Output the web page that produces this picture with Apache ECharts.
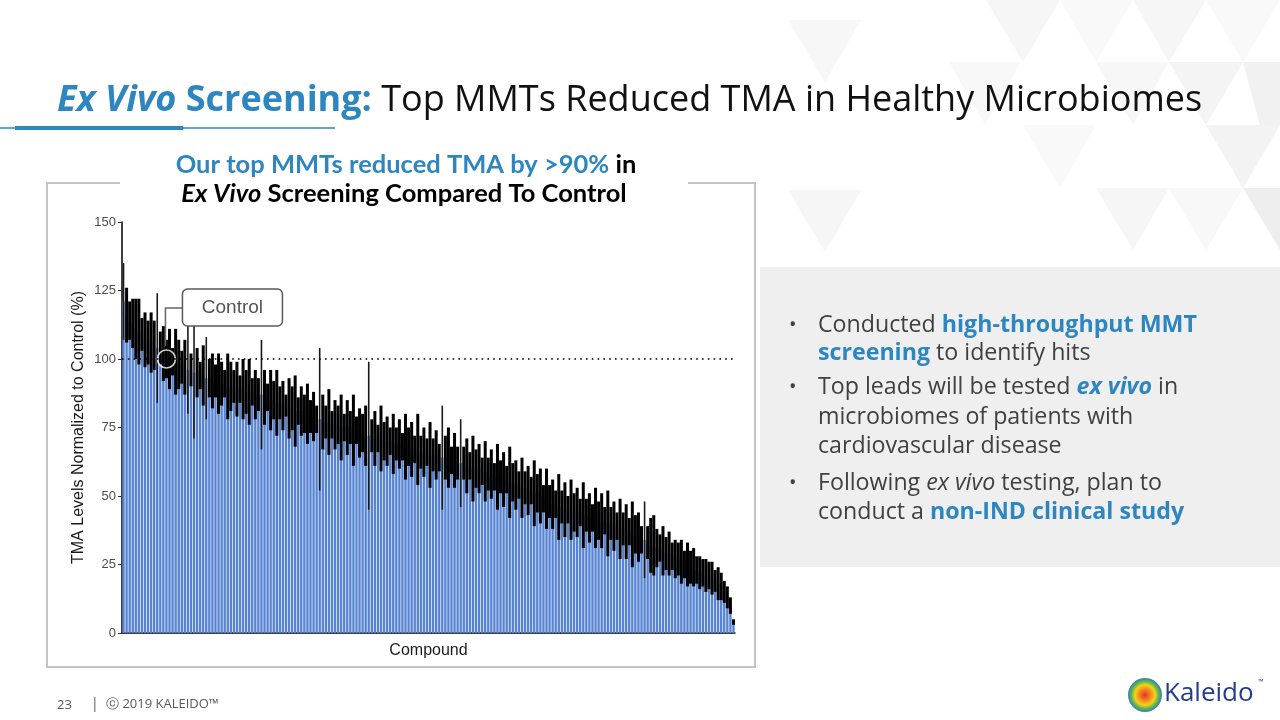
<!DOCTYPE html>
<html>
<head>
<meta charset="utf-8">
<script src="https://cdn.jsdelivr.net/npm/echarts@6/dist/echarts.min.js"></script>
<style>
html,body{margin:0;padding:0;background:#fff;}
#c{width:1280px;height:720px;}
</style>
</head>
<body>
<div id="c"></div>
<script>
// ---- Data ----
const yTicks = [0, 25, 50, 75, 100, 125, 150];
const controlIndex = 14;
const controlValue = 100;
const means = [
121,116,114,113,111,110,109,107,106,106,
105,104,104,102,100,100,99,99,98,97,
97,96,96,95,95,94,94,93,93,92,
92,91,91,91,90,90,90,89,89,89,
88,88,88,87,87,87,86,86,85,85,
84,84,83,83,82,82,81,81,81,80,
80,79,79,78,78,77,77,77,76,76,
76,75,75,75,75,74,74,73,73,72,
72,72,71,71,71,70,70,70,69,69,
69,68,68,68,67,67,67,66,66,66,
65,65,65,64,64,64,64,63,63,62,
62,62,61,61,60,60,60,59,59,58,
58,57,57,57,56,56,55,55,54,54,
53,53,52,52,51,51,50,49,49,48,
47,47,46,46,45,45,45,44,44,44,
43,43,42,42,42,41,41,41,40,40,
39,39,38,38,37,37,36,36,35,34,
34,33,32,32,31,31,30,29,29,28,
27,27,26,25,25,24,24,23,22,22,
21,21,20,19,18,17,15,13,10,4
];
const errs = [
14,10,7,9,11,12,6,10,8,11,
9,20,6,10,7,11,5,12,9,6,
10,16,6,24,9,5,11,15,7,10,
6,11,8,5,12,9,6,10,5,11,
8,12,5,9,6,20,10,5,11,7,
12,6,9,4,11,8,13,5,9,7,
11,6,9,5,26,10,6,12,5,9,
7,12,5,10,6,13,5,9,7,11,
27,6,10,5,12,7,9,5,11,6,
9,5,12,7,10,5,13,6,9,5,
12,6,9,5,19,8,11,5,10,6,
16,6,10,5,12,7,9,5,11,6,
9,5,12,6,10,5,13,7,9,5,
11,6,9,5,12,7,10,5,11,6,
9,5,12,6,10,5,11,7,9,5,
12,6,9,5,11,7,10,5,12,6,
9,5,11,6,10,5,12,7,9,5,
14,6,10,11,7,5,9,6,8,5,
7,6,8,5,8,6,7,5,6,5,
6,5,6,4,6,5,4,4,3,1
];
const categories = means.map((_, i) => 'C' + (i + 1));

const BLUE = '#2e86c1';
const TXT = '#404040';

const chart = echarts.init(document.getElementById('c'), null, {renderer: 'canvas'});

function tri(pts, fill) {
  return {type: 'polygon', silent: true, z: -10, shape: {points: pts}, style: {fill: fill}};
}

const bgShapes = [
  tri([[788,20],[861,20],[825,82]], '#f7f7f7'),
  tri([[949,62],[1021,62],[985,125]], '#f8f8f8'),
  tri([[788,190],[861,190],[825,252]], '#f6f6f6'),
  tri([[986,0],[1060,0],[1023,62]], '#f6f6f6'),
  tri([[1060,0],[1133,0],[1096,62]], '#f9f9f9'),
  tri([[1133,0],[1206,0],[1169,62]], '#f6f6f6'),
  tri([[1206,0],[1280,0],[1243,62]], '#f9f9f9'),
  tri([[1096,62],[1169,62],[1133,125]], '#f7f7f7'),
  tri([[1169,62],[1243,62],[1206,125]], '#f4f4f4'),
  tri([[1243,62],[1280,62],[1280,125],[1260,125]], '#f1f1f1'),
  tri([[1206,125],[1280,125],[1243,188]], '#f3f3f3'),
  tri([[1096,188],[1169,188],[1133,250]], '#f6f6f6'),
  tri([[1169,188],[1243,188],[1206,250]], '#f8f8f8'),
  tri([[1023,125],[1096,125],[1060,188]], '#f9f9f9'),
  tri([[1243,188],[1280,188],[1280,250]], '#eeeeee')
];

function buildGraphics(p) {
  const g = bgShapes.slice();
  // right grey panel
  g.push({type: 'rect', silent: true, z: -5, shape: {x: 760, y: 267, width: 520, height: 300}, style: {fill: '#f0eff0'}});
  // title
  g.push({
    type: 'text', left: 57, top: 83, z: 10,
    style: {
      text: '{a|Ex Vivo }{b|Screening:}{c| Top MMTs Reduced TMA in Healthy Microbiomes}',
      rich: {
        a: {fontFamily: 'Open Sans', fontSize: 36, fontWeight: 'bold', fontStyle: 'italic', fill: BLUE},
        b: {fontFamily: 'Open Sans', fontSize: 36, fontWeight: 'bold', fill: BLUE},
        c: {fontFamily: 'Open Sans', fontSize: 36, fill: '#111111'}
      }
    }
  });
  // title underline
  g.push({type: 'line', silent: true, shape: {x1: 0, y1: 128, x2: 335, y2: 128}, style: {stroke: BLUE, lineWidth: 1.5}});
  g.push({type: 'rect', silent: true, shape: {x: 15, y: 126, width: 168, height: 4}, style: {fill: BLUE}});
  // chart frame
  const fr = {stroke: '#c4c4c4', lineWidth: 2};
  g.push({type: 'polyline', silent: true, shape: {points: [[120,183],[47,183],[47,667],[755,667],[755,183],[688,183]]}, style: Object.assign({fill: null}, fr)});
  // chart subtitle
  g.push({
    type: 'text', x: 406, y: 165, z: 10,
    style: {
      text: '{a|Our top MMTs reduced TMA by >90%}{b| in}',
      align: 'center', verticalAlign: 'middle',
      rich: {
        a: {fontFamily: 'Lato', fontSize: 25.5, fontWeight: 'bold', fill: BLUE},
        b: {fontFamily: 'Lato', fontSize: 25.5, fontWeight: 'bold', fill: '#000'}
      }
    }
  });
  g.push({
    type: 'text', x: 404, y: 194, z: 10,
    style: {
      text: '{a|Ex Vivo}{b| Screening Compared To Control}',
      align: 'center', verticalAlign: 'middle',
      rich: {
        a: {fontFamily: 'Lato', fontSize: 25.5, fontWeight: 'bold', fontStyle: 'italic', fill: '#000'},
        b: {fontFamily: 'Lato', fontSize: 25.5, fontWeight: 'bold', fill: '#000'}
      }
    }
  });
  // bullets
  const FS = 23.2;
  const rich = {
    n: {fontFamily: 'Open Sans', fontSize: FS, fill: TXT},
    b: {fontFamily: 'Open Sans', fontSize: FS, fontWeight: 'bold', fill: BLUE},
    bi: {fontFamily: 'Open Sans', fontSize: FS, fontWeight: 'bold', fontStyle: 'italic', fill: BLUE},
    i: {fontFamily: 'Open Sans', fontSize: FS, fontStyle: 'italic', fill: TXT}
  };
  const lines = [
    [325, '{n|Conducted }{b|high-throughput MMT}', true],
    [353, '{b|screening}{n| to identify hits}', false],
    [387, '{n|Top leads will be tested }{bi|ex vivo}{n| in}', true],
    [417, '{n|microbiomes of patients with}', false],
    [446, '{n|cardiovascular disease}', false],
    [483, '{n|Following }{i|ex vivo}{n| testing, plan to}', true],
    [512, '{n|conduct a }{b|non-IND clinical study}', false]
  ];
  lines.forEach(l => {
    g.push({type: 'text', x: 818, y: l[0], z: 10, style: {text: l[1], rich: rich, verticalAlign: 'middle', align: 'left'}});
    if (l[2]) g.push({type: 'text', x: 789, y: l[0], z: 10, style: {text: '•', fontFamily: 'Open Sans', fontSize: 20, fill: TXT, verticalAlign: 'middle', align: 'left'}});
  });
  // footer
  g.push({type: 'text', x: 57, y: 705, style: {text: '23', fontFamily: 'Open Sans', fontSize: 13, fill: '#595959', verticalAlign: 'middle'}});
  g.push({type: 'text', x: 91, y: 704, style: {text: '|', fontFamily: 'Open Sans', fontSize: 14, fill: '#595959', verticalAlign: 'middle'}});
  g.push({type: 'text', x: 106, y: 704, style: {text: 'ⓒ 2019 KALEIDO™', fontFamily: 'Open Sans', fontSize: 13, fill: '#595959', verticalAlign: 'middle'}});
  // logo
  g.push({type: 'circle', silent: true, shape: {cx: 1145, cy: 695, r: 17},
    style: {fill: new echarts.graphic.RadialGradient(0.5, 0.5, 0.5, [
      {offset: 0, color: '#e8312a'}, {offset: 0.35, color: '#f28c1c'}, {offset: 0.6, color: '#f3d21a'},
      {offset: 0.8, color: '#63b649'}, {offset: 1, color: '#2f7fc1'}])}});
  g.push({type: 'text', x: 1164, y: 694, style: {text: 'Kaleido', fontFamily: 'Open Sans', fontSize: 26, fill: '#233c8c', verticalAlign: 'middle'}});
  g.push({type: 'text', x: 1258, y: 682, style: {text: '™', fontFamily: 'Open Sans', fontSize: 7, fill: '#233c8c', verticalAlign: 'middle'}});

  // Control annotation
  if (p) {
    const px = p[0], py = p[1];
    g.push({type: 'polyline', silent: true, z: 20, shape: {points: [[px + 16, py - 51], [px - 1, py - 51], [px - 1, py - 13]]}, style: {stroke: '#666', lineWidth: 1.5, fill: null}});
    g.push({type: 'rect', silent: true, z: 20, shape: {x: px + 16, y: py - 70, width: 100, height: 37, r: 5}, style: {fill: '#fff', stroke: '#595959', lineWidth: 1.5}});
    g.push({type: 'text', silent: true, z: 21, x: px + 66, y: py - 51, style: {text: 'Control', fontFamily: 'Liberation Sans', fontSize: 19, fill: '#555', align: 'center', verticalAlign: 'middle'}});
  }
  return g;
}

const option = {
  animation: false,
  backgroundColor: '#ffffff',
  grid: {left: 122, top: 222, width: 613, height: 411, containLabel: false},
  xAxis: {
    type: 'category', data: categories, boundaryGap: true,
    name: 'Compound', nameLocation: 'middle', nameGap: 10,
    nameTextStyle: {fontFamily: 'Liberation Sans', fontSize: 16, color: '#1a1a1a'},
    axisLine: {show: true, lineStyle: {color: '#000', width: 1.5}},
    axisTick: {show: false}, axisLabel: {show: false}, splitLine: {show: false}
  },
  yAxis: {
    type: 'value', min: yTicks[0], max: yTicks[yTicks.length - 1], interval: 25,
    name: 'TMA Levels Normalized to Control (%)', nameLocation: 'middle', nameGap: 35, nameRotate: 90,
    nameTextStyle: {fontFamily: 'Liberation Sans', fontSize: 16, color: '#1a1a1a'},
    axisLine: {show: true, lineStyle: {color: '#000', width: 1.5}},
    axisTick: {show: true, length: 4, lineStyle: {color: '#333'}},
    axisLabel: {fontFamily: 'Liberation Sans', fontSize: 13, color: '#4d4d4d', margin: 6},
    splitLine: {show: false}
  },
  series: [
    {
      type: 'line', data: [], z: 1, silent: true,
      markLine: {silent: true, symbol: 'none', label: {show: false},
        lineStyle: {color: '#000', width: 1.6, type: [1.6, 4.2]},
        data: [{yAxis: controlValue}]}
    },
    {
      type: 'bar', data: means, z: 2, barCategoryGap: '22%',
      itemStyle: {color: '#5784d2'}, silent: true
    },
    {
      type: 'custom', z: 3, silent: true,
      data: means.map((m, i) => [i, m - errs[i], m + errs[i]]),
      encode: {x: 0, y: [1, 2]},
      renderItem: function (params, api) {
        const lo = api.coord([api.value(0), api.value(1)]);
        const hi = api.coord([api.value(0), api.value(2)]);
        const big = (api.value(2) - api.value(1)) >= 28;
        return {type: 'line', shape: {x1: lo[0], y1: lo[1], x2: hi[0], y2: hi[1]},
          style: {stroke: big ? '#1a1a1a' : '#000', lineWidth: big ? 1.6 : 3}};
      }
    },
    {
      type: 'scatter', z: 4, silent: true,
      data: [[controlIndex, controlValue]],
      symbol: 'circle', symbolSize: 18,
      itemStyle: {color: 'rgba(0,0,0,0)', borderColor: '#fff', borderWidth: 1.6}
    }
  ],
  graphic: buildGraphics(null)
};
chart.setOption(option);
const cp = chart.convertToPixel({seriesIndex: 3}, [controlIndex, controlValue]);
chart.setOption({graphic: buildGraphics(cp)}, {replaceMerge: ['graphic']});
</script>
</body>
</html>
